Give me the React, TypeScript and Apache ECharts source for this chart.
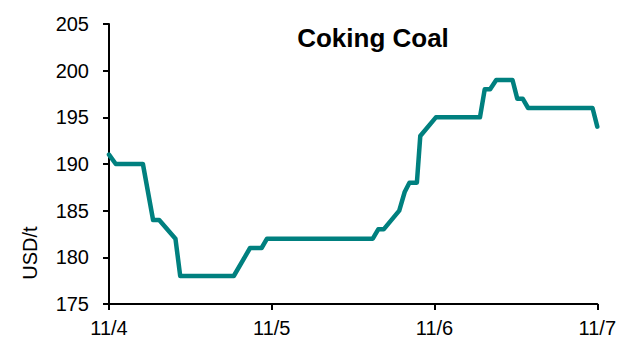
import React, { useEffect, useRef } from "react";
import * as echarts from "echarts";

// Hours since 11/4 00:00 and the coking coal price (USD/t) at each step
const hours = [0, 1, 5, 6.5, 7.4, 9.8, 10.5, 18.4, 20.8, 22.5, 23.3, 38.9, 39.7, 40.5, 42.8, 43.6, 44.3, 45.4, 45.9, 48.2, 54.7, 55.4, 56.2, 57.1, 59.5, 60.2, 61, 61.8, 71.3, 72];
const prices = [191, 190, 190, 184, 184, 182, 178, 178, 181, 181, 182, 182, 183, 183, 185, 187, 188, 188, 193, 195, 195, 198, 198, 199, 199, 197, 197, 196, 196, 194];
const dayLabels = ["11/4", "11/5", "11/6", "11/7"];

const title = "Coking Coal";
const unit = "USD/t";

export default function App() {
  const ref = useRef<HTMLDivElement>(null);

  useEffect(() => {
    if (!ref.current) return;
    const chart = echarts.init(ref.current, undefined, { renderer: "svg" });
    const font = "Liberation Sans, Arial, sans-serif";
    chart.setOption({
      animation: false,
      backgroundColor: "#ffffff",
      title: {
        text: title,
        left: 368,
        top: 20,
        textAlign: "center",
        textStyle: { fontFamily: font, fontSize: 26, fontWeight: "bold", color: "#000" },
      },
      graphic: [
        {
          type: "text",
          x: 30,
          y: 253,
          rotation: Math.PI / 2,
          style: {
            text: unit,
            fontFamily: font,
            fontSize: 20,
            fill: "#000",
            align: "center",
            verticalAlign: "middle",
          },
        },
      ],
      grid: { left: 109, right: 21, top: 24, bottom: 34 },
      xAxis: {
        type: "value",
        min: 0,
        max: 72,
        interval: 24,
        axisLine: { lineStyle: { color: "#000", width: 2 } },
        axisTick: { show: true, length: 6, lineStyle: { color: "#000", width: 2 } },
        splitLine: { show: false },
        axisLabel: {
          margin: 14,
          fontFamily: font,
          fontSize: 20,
          color: "#000",
          formatter: (v: number) => dayLabels[Math.round(v / 24)] ?? "",
        },
      },
      yAxis: {
        type: "value",
        min: 175,
        max: 205,
        interval: 5,
        axisLine: { show: true, lineStyle: { color: "#000", width: 2 } },
        axisTick: { show: true, length: 6, lineStyle: { color: "#000", width: 2 } },
        splitLine: { show: false },
        axisLabel: { margin: 20, fontFamily: font, fontSize: 20, color: "#000" },
      },
      series: [
        {
          type: "line",
          data: hours.map((h, i) => [h, prices[i]]),
          showSymbol: false,
          lineStyle: { color: "#00807f", width: 4.5, cap: "round", join: "round" },
          itemStyle: { color: "#00807f" },
        },
      ],
    });
    return () => chart.dispose();
  }, []);

  return (
    <div
      ref={ref}
      style={{ position: "fixed", left: 0, top: 0, width: 619, height: 338 }}
    />
  );
}
